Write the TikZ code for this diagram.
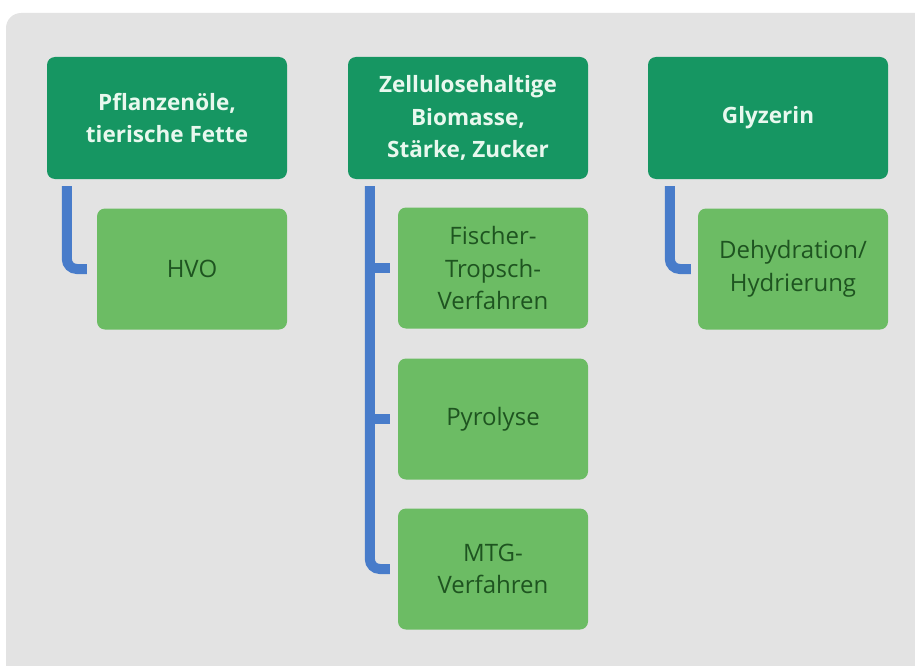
\documentclass[tikz,border=0pt]{standalone}
\usepackage{fontspec}
\setmainfont{Open Sans}
\usepackage{tikz}
\usetikzlibrary{positioning}

\definecolor{headgreen}{RGB}{22,150,98}
\definecolor{subgreen}{RGB}{108,188,100}
\definecolor{subtext}{RGB}{30,84,32}
\definecolor{headtext}{RGB}{232,248,238}
\definecolor{linkblue}{RGB}{72,124,202}
\definecolor{panelgrey}{RGB}{227,227,227}

\tikzset{
	headbox/.style={fill=headgreen, rounded corners=8pt, minimum width=240pt, minimum height=122pt,
	                text=headtext, font=\fontsize{22.5}{32.5}\selectfont\bfseries, align=center, inner sep=0pt},
	subbox/.style={fill=subgreen, rounded corners=8pt, minimum width=190pt, minimum height=121pt,
	               text=subtext, font=\fontsize{24}{32.5}\selectfont, align=center, inner sep=0pt},
	link/.style={draw=linkblue, line width=10pt, rounded corners=10pt}
}

\begin{document}
\begin{tikzpicture}[x=1pt,y=-1pt]
	\useasboundingbox (0,0) rectangle (915,666);
	\fill[panelgrey, rounded corners=15pt] (6,13) rectangle (940,690);

	% Ausgangsstoffe
	\node[headbox] (pfl) at (167,118) {Pflanzenöle,\\tierische Fette};
	\node[headbox] (zel) at (468,118) {Zellulosehaltige\\Biomasse,\\Stärke, Zucker};
	\node[headbox] (gly) at (768,118) {Glyzerin};

	% Verfahren
	\node[subbox] (hvo) at (192,269) {HVO};
	\node[subbox] (ft)  at (493,268) {Fischer-\\Tropsch-\\Verfahren};
	\node[subbox] (pyr) at (493,419) {Pyrolyse};
	\node[subbox] (mtg) at (493,569) {MTG-\\Verfahren};
	\node[subbox] (deh) at (793,269) {Dehydration/\\Hydrierung};

	% Verbindungen
	\coordinate (t1) at ([xshift=20pt,yshift=-7pt]pfl.south west);
	\coordinate (t2) at ([xshift=22pt,yshift=-7pt]zel.south west);
	\coordinate (t3) at ([xshift=22pt,yshift=-7pt]gly.south west);
	\draw[link] (t1) |- ([xshift=-10pt]hvo.west);
	\draw[link] (t2) |- ([xshift=-8pt]mtg.west);
	\draw[draw=linkblue, line width=10pt] (t2 |- ft.west) -- ([xshift=-8pt]ft.west);
	\draw[draw=linkblue, line width=10pt] (t2 |- pyr.west) -- ([xshift=-8pt]pyr.west);
	\draw[link] (t3) |- ([xshift=-7pt]deh.west);
\end{tikzpicture}
\end{document}
